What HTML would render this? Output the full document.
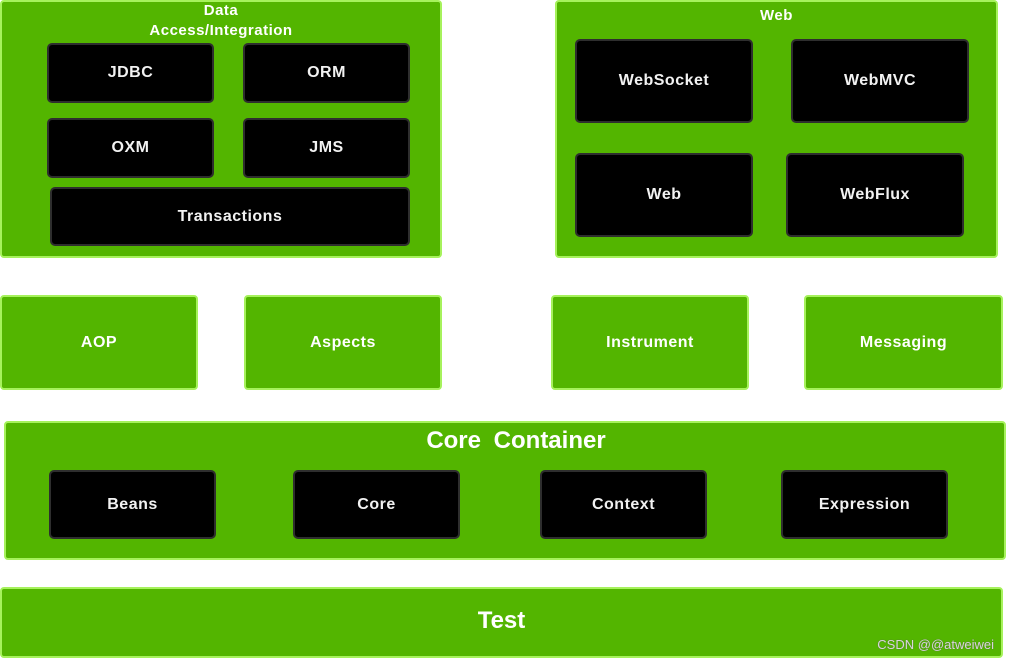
<!DOCTYPE html>
<html><head><meta charset="utf-8"><style>
body{margin:0;width:1011px;height:661px;background:#fff;position:relative;overflow:hidden;font-family:"Liberation Sans","DejaVu Sans",sans-serif;}
.g{position:absolute;background:#53b500;border:2px solid #a6f25c;border-radius:4px;box-sizing:border-box;color:#fff;font-weight:bold;}
.b{position:absolute;background:#000;border:2px solid #2e2e2e;border-radius:5px;box-sizing:border-box;color:#f2f2f2;font-weight:bold;font-size:16px;display:flex;align-items:center;justify-content:center;letter-spacing:0.5px;}
.c{display:flex;align-items:center;justify-content:center;font-size:16px;letter-spacing:0.5px;}
.t{position:absolute;left:0;right:0;text-align:center;color:#fff;font-weight:bold;}
</style></head><body>
<div class="g" style="left:0;top:0;width:442px;height:258px"></div>
<div class="t" style="left:0;width:442px;top:1px;font-size:15px;line-height:20px;letter-spacing:0.5px">Data<br>Access/Integration</div>
<div class="b" style="left:47px;top:43px;width:167px;height:60px">JDBC</div>
<div class="b" style="left:243px;top:43px;width:167px;height:60px">ORM</div>
<div class="b" style="left:47px;top:118px;width:167px;height:60px">OXM</div>
<div class="b" style="left:243px;top:118px;width:167px;height:60px">JMS</div>
<div class="b" style="left:50px;top:187px;width:360px;height:59px">Transactions</div>

<div class="g" style="left:555px;top:0;width:443px;height:258px"></div>
<div class="t" style="left:555px;width:443px;top:7px;font-size:15px;letter-spacing:0.5px">Web</div>
<div class="b" style="left:575px;top:39px;width:178px;height:84px">WebSocket</div>
<div class="b" style="left:791px;top:39px;width:178px;height:84px">WebMVC</div>
<div class="b" style="left:575px;top:153px;width:178px;height:84px">Web</div>
<div class="b" style="left:786px;top:153px;width:178px;height:84px">WebFlux</div>

<div class="g c" style="left:0;top:295px;width:198px;height:95px">AOP</div>
<div class="g c" style="left:244px;top:295px;width:198px;height:95px">Aspects</div>
<div class="g c" style="left:551px;top:295px;width:198px;height:95px">Instrument</div>
<div class="g c" style="left:804px;top:295px;width:199px;height:95px">Messaging</div>

<div class="g" style="left:4px;top:421px;width:1002px;height:139px"></div>
<div class="t" style="left:4px;width:1024px;top:427px;font-size:24px;word-spacing:6px">Core Container</div>
<div class="b" style="left:49px;top:470px;width:167px;height:69px">Beans</div>
<div class="b" style="left:293px;top:470px;width:167px;height:69px">Core</div>
<div class="b" style="left:540px;top:470px;width:167px;height:69px">Context</div>
<div class="b" style="left:781px;top:470px;width:167px;height:69px">Expression</div>

<div class="g" style="left:0;top:587px;width:1003px;height:71px"></div>
<div class="t" style="left:0;width:1003px;top:607px;font-size:24px">Test</div>
<div style="position:absolute;right:17px;top:637px;font-size:13px;color:#d8d8d8;text-shadow:0 0 1px #555">CSDN @@atweiwei</div>
</body></html>
